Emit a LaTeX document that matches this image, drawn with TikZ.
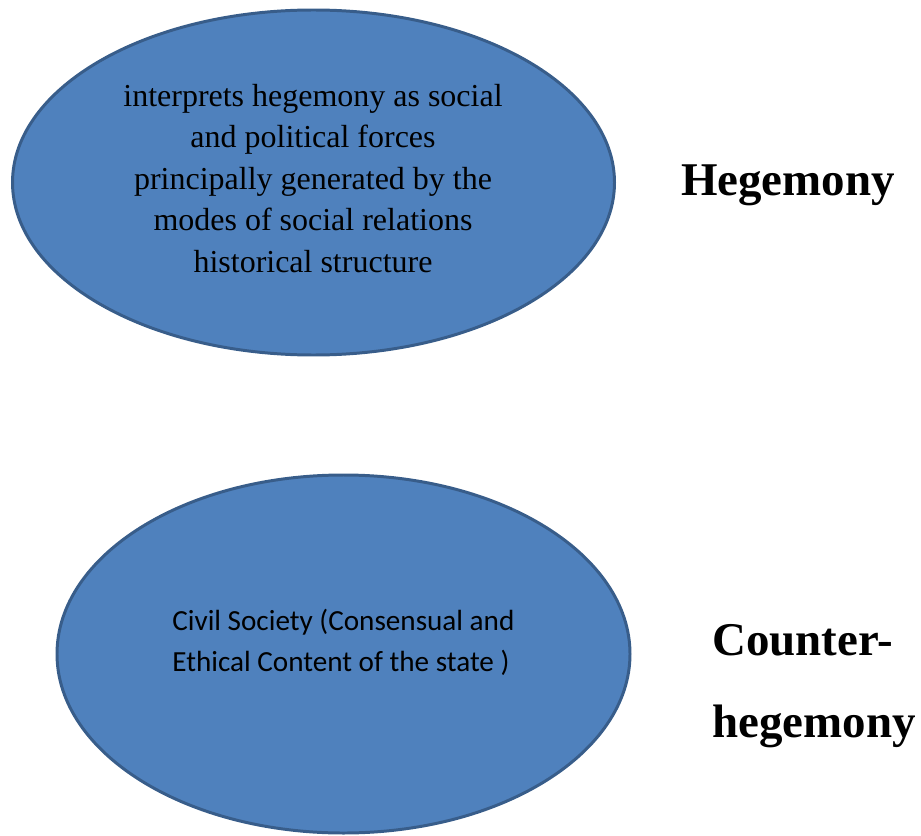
\documentclass[tikz,border=0pt]{standalone}
\usepackage{fontspec}
\setmainfont{Liberation Serif}
\newfontfamily\serifface{Liberation Serif}
\newfontfamily\calibri{Carlito}
\usepackage{xcolor}
\usetikzlibrary{shapes.geometric, positioning}
\definecolor{ovalblue}{HTML}{4F81BD}
\definecolor{ovaledge}{HTML}{385D8A}

\begin{document}
\begin{tikzpicture}[
    oval/.style={ellipse, draw=ovaledge, line width=1.7pt,
                 fill=ovalblue, inner sep=0pt},
    otext/.style={align=center, font=\serifface\fontsize{18.2}{23.6}\selectfont},
    ctext/.style={align=left, font=\calibri\fontsize{16.6}{23.4}\selectfont,
                  inner sep=0pt},
    tag/.style={align=left, font=\serifface\bfseries\fontsize{26.7}{46.5}\selectfont},
]

%% ─── page frame ──────────────────────────────────────────────
\useasboundingbox (0,0) rectangle (18.42,16.7);

%% ─── ovals ───────────────────────────────────────────────────
\node[oval, minimum width=12.04cm, minimum height=6.9cm]
      (heg) at (6.27, 13.05) {};
\node[oval, minimum width=11.46cm, minimum height=7.16cm]
      (ctr) at (6.87, 3.62) {};

%% ─── texts ───────────────────────────────────────────────────
\node[otext] (hegtxt) at (6.26, 13.13)
    {interprets hegemony as social\\
     and political forces\\
     principally generated by the\\
     modes of social relations\\
     historical structure};

\node[ctext, anchor=north west] (ctrtxt) at (3.44, 4.52)
    {Civil Society (Consensual and\\
     Ethical Content of the state )};

%% ─── side labels ─────────────────────────────────────────────
\node[tag] (hegtag) at (15.76, 13.0) {Hegemony};
\node[tag, anchor=west, inner sep=0pt] (ctrtag) at (14.24, 2.98)
    {Counter-\\hegemony};

\end{tikzpicture}
\end{document}
